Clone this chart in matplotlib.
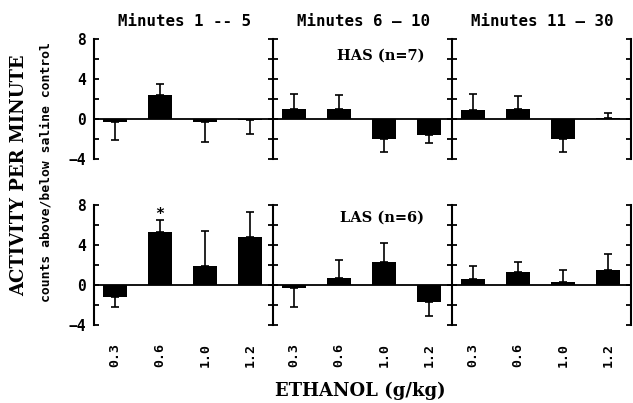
import numpy as np
import matplotlib
matplotlib.use("Agg")
import matplotlib.pyplot as plt

doses = ["0.3", "0.6", "1.0", "1.2"]
periods = ["Minutes 1 -- 5", "Minutes 6 \u2014 10", "Minutes 11 \u2014 30"]

# HAS (n=7): mean counts above/below saline control, per period
has_means = [
    [-0.3, 2.4, -0.3, -0.1],
    [1.0, 1.05, -2.0, -1.6],
    [0.9, 1.05, -2.0, 0.1],
]
has_sem = [
    [1.8, 1.1, 2.0, 1.4],
    [1.5, 1.35, 1.3, 0.8],
    [1.6, 1.25, 1.3, 0.5],
]

# LAS (n=6)
las_means = [
    [-1.2, 5.35, 1.95, 4.8],
    [-0.3, 0.75, 2.3, -1.7],
    [0.6, 1.3, 0.3, 1.55],
]
las_sem = [
    [1.0, 1.15, 3.45, 2.5],
    [1.9, 1.75, 1.9, 1.4],
    [1.3, 1.0, 1.2, 1.55],
]

MONO = "DejaVu Sans Mono"
SERIF = "DejaVu Serif"

W, H = 633, 403
fig = plt.figure(figsize=(W / 100, H / 100), dpi=100, facecolor="white")

col_x = [94, 273, 452]
col_w = 179
row_top = [39, 205]
row_h = 120


def draw_panel(ax, means, sems, col):
    x = np.arange(len(means))
    means = np.array(means)
    sems = np.array(sems)
    ax.bar(x, means, width=0.53, color="black", zorder=2)
    lo = np.where(means < 0, sems, 0)
    hi = np.where(means >= 0, sems, 0)
    ax.errorbar(x, means, yerr=[lo, hi], fmt="none", ecolor="black",
                elinewidth=1.2, capsize=2.8, capthick=1.2, zorder=3)
    ax.axhline(0, color="black", lw=1.3, zorder=1)
    ax.set_xlim(-0.47, 3.51)
    ax.set_ylim(-4, 8)
    ax.set_yticks(np.arange(-4, 9, 2))
    for s in ["top", "bottom", "right"]:
        ax.spines[s].set_visible(False)
    ax.spines["left"].set_linewidth(1.5)
    ax.set_facecolor("none")
    if col == 0:
        ax.tick_params(axis="y", direction="in", length=3.4, width=1.3, pad=6)
        ax.set_yticklabels(["\u22124", "", "0", "", "4", "", "8"],
                           fontfamily=MONO, fontweight="bold", fontsize=10.5)
    else:
        ax.tick_params(axis="y", direction="inout", length=6.5, width=1.3,
                       labelleft=False)
    if col == 2:
        sec = ax.secondary_yaxis("right")
        sec.set_yticks(np.arange(-4, 9, 2))
        sec.tick_params(direction="in", length=3.4, width=1.3, labelright=False)
        sec.spines["right"].set_linewidth(1.5)


for r, (means_all, sems_all) in enumerate([(has_means, has_sem), (las_means, las_sem)]):
    for c in range(3):
        left = col_x[c] / W
        bottom = 1 - (row_top[r] + row_h) / H
        ax = fig.add_axes([left, bottom, col_w / W, row_h / H])
        draw_panel(ax, means_all[c], sems_all[c], c)
        ax.set_xticks(np.arange(4))
        if r == 1:
            ax.set_xticklabels(doses, rotation=90, fontfamily=MONO,
                               fontweight="bold", fontsize=9.5)
            ax.tick_params(axis="x", length=0, pad=13)
        else:
            ax.tick_params(axis="x", length=0, labelbottom=False)
        if r == 0 and c == 1:
            ax.text(0.6, 6.3, "HAS (n=7)", transform=ax.get_yaxis_transform(),
                    ha="center", va="center", fontfamily=SERIF,
                    fontweight="bold", fontsize=10.5)
        if r == 1 and c == 1:
            ax.text(0.61, 6.7, "LAS (n=6)", transform=ax.get_yaxis_transform(),
                    ha="center", va="center", fontfamily=SERIF,
                    fontweight="bold", fontsize=10.5)
        if r == 1 and c == 0:
            ax.text(1, 7.1, "*", ha="center", va="center", fontfamily=MONO,
                    fontweight="bold", fontsize=11)

# period titles
for c, title in enumerate(periods):
    cx = (col_x[c] + col_w / 2 + 1) / W
    fig.text(cx, 1 - 21 / H, title, ha="center", va="center",
             fontfamily=MONO, fontweight="bold", fontsize=11.3)

fig.text(19 / W, 1 - 175 / H, "ACTIVITY PER MINUTE", rotation=90,
         ha="center", va="center", fontfamily=SERIF, fontweight="bold",
         fontsize=13)
fig.text(46 / W, 1 - 172 / H, "counts above/below saline control", rotation=90,
         ha="center", va="center", fontfamily=MONO, fontweight="bold",
         fontsize=9.4)
fig.text(360 / W, 1 - 391 / H, "ETHANOL (g/kg)", ha="center", va="center",
         fontfamily=SERIF, fontweight="bold", fontsize=13)

fig.savefig("out.png", dpi=100, facecolor="white")
plt.close(fig)
